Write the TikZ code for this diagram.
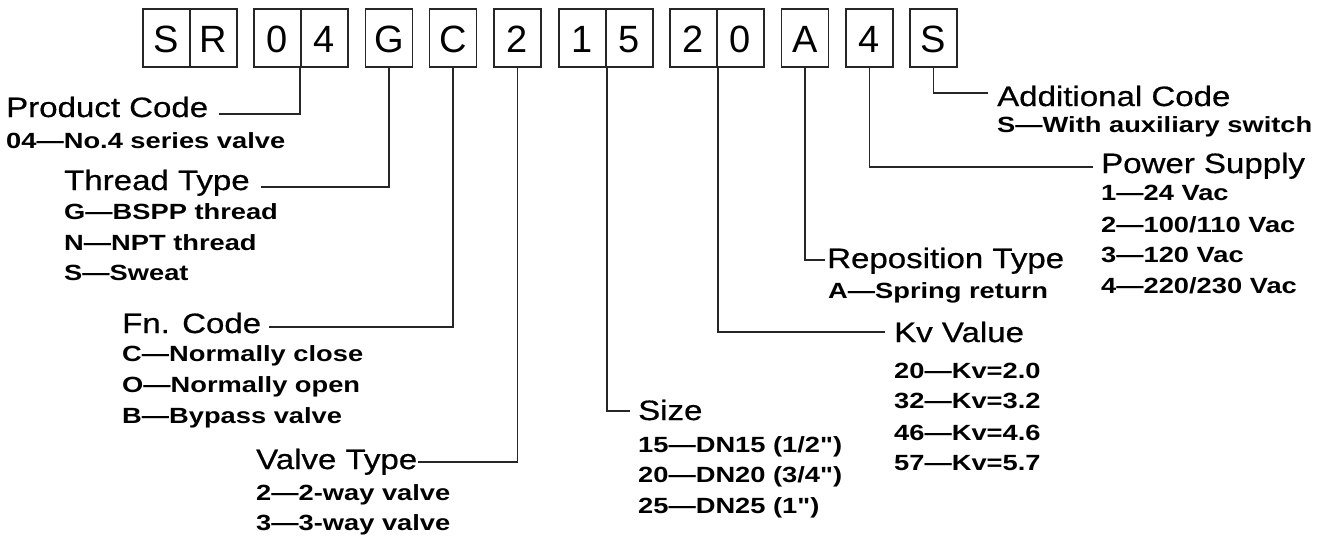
\documentclass[tikz,border=0pt]{standalone}
\usepackage{fontspec}
\newfontfamily\headfont{Liberation Sans}[FakeStretch=1.18,FakeBold=0.6]
\newfontfamily\subfont{Liberation Sans}[FakeStretch=1.24]
\newfontfamily\boxfont{Liberation Sans}
\begin{document}
\begin{tikzpicture}[x=1pt,y=-1pt,
  cell/.style={draw=black!85, line width=1.8pt, minimum width=47pt, minimum height=58pt,
    inner sep=0pt, text height=28pt, text depth=0pt, font=\boxfont\fontsize{38}{38}\selectfont},
  head/.style={anchor=base west, inner sep=0pt, font=\headfont\fontsize{28}{30}\selectfont},
  sub/.style={anchor=base west, inner sep=0pt, font=\subfont\bfseries\fontsize{22}{24}\selectfont},
  conn/.style={draw=black!85, line width=1.8pt}]
\useasboundingbox[fill=white] (0,0) rectangle (1323,536);
% code boxes
\node[cell] (bS)  at (166.5,38) {S};
\node[cell] (bR)  at (213.5,38) {R};
\node[cell] (b0)  at (277.5,38) {0};
\node[cell] (b4)  at (324.5,38) {4};
\node[cell] (bG)  at (389,38) {G};
\node[cell] (bC)  at (453,38) {C};
\node[cell] (b2)  at (517.5,38) {2};
\node[cell] (b1)  at (582.5,38) {1};
\node[cell] (b5)  at (629.5,38) {5};
\node[cell] (b20) at (693.5,38) {2};
\node[cell] (b00) at (740.5,38) {0};
\node[cell] (bA)  at (805,38) {A};
\node[cell] (b4b) at (869.5,38) {4};
\node[cell] (bSb) at (933.5,38) {S};
% left-hand labels
\node[head] (pc) at (6,117) {Product Code};
\node[sub] (pc1) at (6,148) {04—No.4 series valve};
\node[head] (tt) at (64,190) {Thread Type};
\node[sub] (tt1) at (64,219) {G—BSPP thread};
\node[sub] (tt2) at (64,250) {N—NPT thread};
\node[sub] (tt3) at (64,280) {S—Sweat};
\node[head] (fn) at (122,333) {Fn. Code};
\node[sub] (fn1) at (122,361) {C—Normally close};
\node[sub] (fn2) at (122,392) {O—Normally open};
\node[sub] (fn3) at (122,423) {B—Bypass valve};
\node[head] (vt) at (256,469) {Valve Type};
\node[sub] (vt1) at (256,500) {2—2-way valve};
\node[sub] (vt2) at (256,530) {3—3-way valve};
% right-hand labels
\node[head] (sz) at (638,420) {Size};
\node[sub] (sz1) at (638,452) {15—DN15 (1/2")};
\node[sub] (sz2) at (638,482) {20—DN20 (3/4")};
\node[sub] (sz3) at (638,513) {25—DN25 (1")};
\node[head] (kv) at (894,342) {Kv Value};
\node[sub] (kv1) at (894,378) {20—Kv=2.0};
\node[sub] (kv2) at (894,408) {32—Kv=3.2};
\node[sub] (kv3) at (894,440) {46—Kv=4.6};
\node[sub] (kv4) at (894,470) {57—Kv=5.7};
\node[head] (rp) at (827,268) {Reposition Type};
\node[sub] (rp1) at (828,298) {A—Spring return};
\node[head] (ps) at (1101,173) {Power Supply};
\node[sub] (ps1) at (1101,200) {1—24 Vac};
\node[sub] (ps2) at (1101,232) {2—100/110 Vac};
\node[sub] (ps3) at (1101,262) {3—120 Vac};
\node[sub] (ps4) at (1101,293) {4—220/230 Vac};
\node[head] (ac) at (997,106) {Additional Code};
\node[sub] (ac1) at (997,132) {S—With auxiliary switch};
% connectors
\draw[conn] (b4.south west) |- ([xshift=11pt,yshift=3pt]pc.base east);
\draw[conn] (bG.south) |- ([xshift=11pt,yshift=3pt]tt.base east);
\draw[conn] (bC.south) |- ([xshift=8pt,yshift=6pt]fn.base east);
\draw[conn] (b2.south) |- ([xshift=1pt,yshift=7pt]vt.base east);
\draw[conn] (b1.south east) |- ([xshift=-8pt,yshift=9pt]sz.base west);
\draw[conn] (b20.south east) |- ([xshift=-9pt,yshift=10pt]kv.base west);
\draw[conn] (bA.south) |- ([xshift=-2pt,yshift=8pt]rp.base west);
\draw[conn] (b4b.south) |- ([xshift=-8pt,yshift=6pt]ps.base west);
\draw[conn] (bSb.south) |- ([xshift=-9pt,yshift=13pt]ac.base west);
\end{tikzpicture}
\end{document}
